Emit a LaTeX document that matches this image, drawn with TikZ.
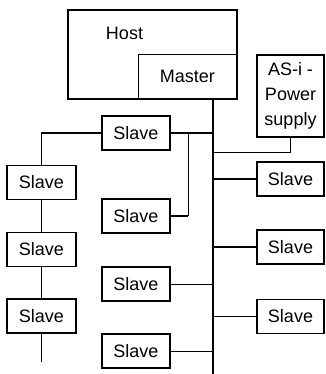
\documentclass[tikz,border=0pt]{standalone}
\usepackage{fontspec}
\setmainfont{Liberation Sans}
\usepackage{tikz}
\usetikzlibrary{calc, positioning}

\tikzset{
	box/.style={draw, line width=1.2pt, inner sep=0pt, minimum height=34pt, font=\fontsize{18}{25}\selectfont},
	slave/.style={box, minimum width=68pt},
	bus/.style={line width=1.5pt},
	tap/.style={line width=0.7pt}
}

\begin{document}
\begin{tikzpicture}[x=1pt, y=-1pt]
	\useasboundingbox (0,0) rectangle (325,374);
	%Host y Master
	\draw[line width=1.2pt] (68,10) rectangle (237,99);
	\node[box, minimum width=98pt, minimum height=44pt, anchor=south east] (master) at (237,99) {Master};
	\node[font=\fontsize{18}{25}\selectfont] (host) at (124.5,33) {Host};
	
	%Fuente AS-i
	\node[box, minimum width=67pt, minimum height=82pt, align=center] (asi) at (290.5,96) {AS-i -\\Power\\supply};
	
	%Bus
	\coordinate (bustop) at (213,99);
	\coordinate (busend) at (213,374);
	\coordinate (asitap) at (213,152);
	\draw[bus] (bustop) -- (busend);
	\draw[tap] (asi.south) |- (asitap);
	
	%Esclavos
	\node[slave] (s1) at (136,133) {Slave};
	\node[slave] (s2) at (136,216) {Slave};
	\node[slave] (s3) at (136,284) {Slave};
	\node[slave] (s4) at (136,351) {Slave};
	\node[slave, minimum width=69pt] (l1) at (41.5,182.5) {Slave};
	\node[slave, minimum width=69pt] (l2) at (41.5,249.5) {Slave};
	\node[slave, minimum width=69pt] (l3) at (41.5,316) {Slave};
	\node[slave, minimum width=67pt] (r1) at (290.5,179) {Slave};
	\node[slave, minimum width=67pt] (r2) at (290.5,247) {Slave};
	\node[slave, minimum width=67pt] (r3) at (290.5,316.5) {Slave};
	
	%Conexiones
	\coordinate (branch) at (188,133);
	\coordinate (lend) at (41.5,362);
	\draw[bus] (s1.east) -- (s1.east -| bustop);
	\draw[tap] (branch) -- (branch |- s2.east);
	\draw[bus] (branch |- s2.east) -- (s2.east);
	\draw[tap] (s3.east) -- (s3.east -| bustop);
	\draw[tap] (s4.east) -- (s4.east -| bustop);
	\draw[bus] (s1.west) -| (l1.north);
	\draw[bus] (l1.south) -- (l2.north);
	\draw[bus] (l2.south) -- (l3.north);
	\draw[bus] (l3.south) -- (lend);
	\draw[bus] (r1.west) -- (r1.west -| bustop);
	\draw[bus] (r2.west) -- (r2.west -| bustop);
	\draw[bus] (r3.west) -- (r3.west -| bustop);
\end{tikzpicture}
\end{document}
